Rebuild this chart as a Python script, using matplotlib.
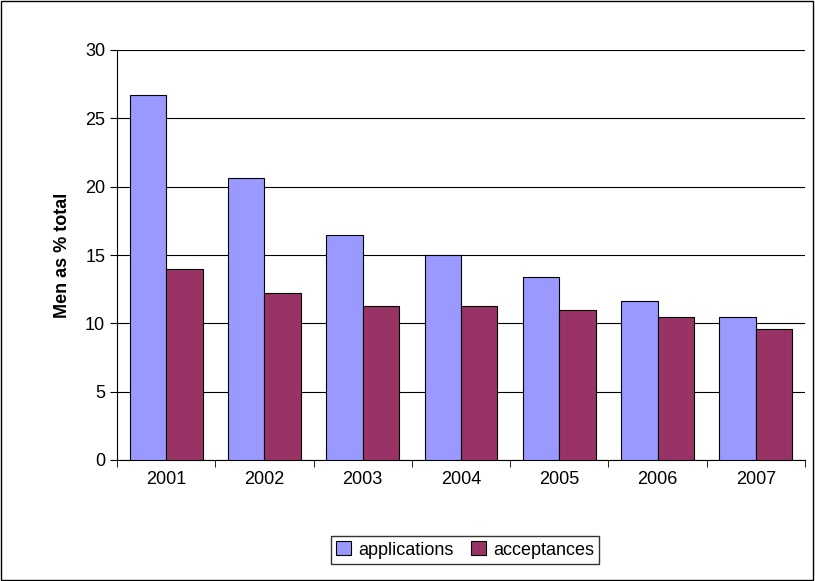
import matplotlib
matplotlib.use("Agg")
from matplotlib import pyplot as plt
from matplotlib.patches import Rectangle
import numpy as np

years = ['2001', '2002', '2003', '2004', '2005', '2006', '2007']
applications = [26.7, 20.6, 16.5, 15.0, 13.4, 11.6, 10.5]
acceptances = [14.0, 12.2, 11.3, 11.3, 11.0, 10.5, 9.6]

plt.rcParams['font.family'] = ['Liberation Sans', 'DejaVu Sans']

fig = plt.figure(figsize=(8.15, 5.81), dpi=100)
fig.patches.append(Rectangle((0.001, 0.001), 0.997, 0.997, transform=fig.transFigure,
                             fill=False, edgecolor='black', linewidth=1))
ax = fig.add_axes([117/815, 1-460/581, (805-117)/815, 410/581])

x = np.arange(len(years))
w = 0.37
ax.bar(x - w/2, applications, w, color='#9999FF', edgecolor='black', linewidth=0.8,
       label='applications', zorder=3)
ax.bar(x + w/2, acceptances, w, color='#993366', edgecolor='black', linewidth=0.8,
       label='acceptances', zorder=3)

ax.set_xlim(-0.5, len(years) - 0.5)
ax.set_ylim(0, 30)
ax.set_yticks(range(0, 31, 5))
ax.set_xticks(x)
ax.set_xticklabels(years)
ax.set_xticks(np.arange(-0.5, len(years), 1), minor=True)
ax.tick_params(axis='x', which='major', length=0, labelsize=13, pad=8)
ax.tick_params(axis='x', which='minor', length=5, direction='out')
ax.tick_params(axis='y', labelsize=13, length=5, direction='out')
ax.yaxis.grid(True, color='black', linewidth=0.8, zorder=0)
for s in ['top', 'right']:
    ax.spines[s].set_visible(False)
ax.set_ylabel('Men as % total', fontsize=13, fontweight='bold', labelpad=10)

fig.legend(loc='center', bbox_to_anchor=(465/815, 1-550/581), ncol=2, fontsize=13,
           frameon=True, fancybox=False, edgecolor='black', handlelength=0.8,
           handleheight=0.8, columnspacing=1.0, handletextpad=0.4, borderpad=0.3)

fig.savefig('out.png', dpi=100)
